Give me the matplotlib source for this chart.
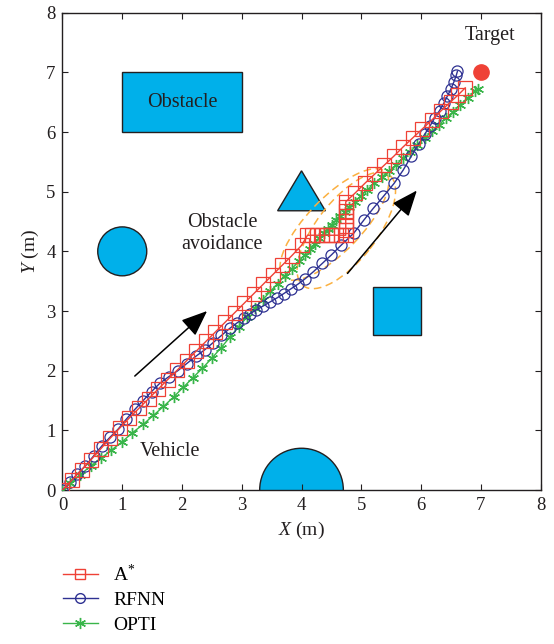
import matplotlib
matplotlib.use('Agg')
import matplotlib.pyplot as plt
from matplotlib.patches import Rectangle, Circle, Polygon, Ellipse
from matplotlib.lines import Line2D

plt.rcParams['font.family'] = 'Liberation Serif'
plt.rcParams['mathtext.fontset'] = 'custom'
plt.rcParams['mathtext.it'] = 'Liberation Serif:italic'
plt.rcParams['mathtext.rm'] = 'Liberation Serif'

# A* path (grid search, jog around the triangle)
astar_x = [0.00, 0.16, 0.32, 0.48, 0.64, 0.80, 0.96, 1.12, 1.28, 1.44, 1.60, 1.76, 1.92,
           2.08, 2.24, 2.40, 2.56, 2.72, 2.88, 3.04, 3.20, 3.36, 3.52, 3.68, 3.84, 4.00,
           4.10, 4.18, 4.26, 4.34, 4.42, 4.50, 4.58, 4.66, 4.74,
           4.74, 4.74, 4.74, 4.74, 4.74, 4.74, 4.74,
           4.90, 5.06, 5.22, 5.38, 5.54, 5.70, 5.86, 6.02, 6.18, 6.34, 6.50, 6.62, 6.74]
astar_y = [0.00, 0.17, 0.34, 0.51, 0.69, 0.87, 1.04, 1.21, 1.37, 1.53, 1.69, 1.85, 2.01,
           2.17, 2.33, 2.49, 2.65, 2.81, 2.97, 3.13, 3.29, 3.45, 3.61, 3.77, 3.93, 4.10,
           4.27, 4.27, 4.27, 4.27, 4.27, 4.27, 4.27, 4.27, 4.27,
           4.35, 4.43, 4.51, 4.59, 4.67, 4.75, 4.83,
           4.98, 5.14, 5.29, 5.44, 5.59, 5.75, 5.90, 6.05, 6.20, 6.36, 6.51, 6.62, 6.74]

# RFNN path
rfnn_x = [0.00, 0.12, 0.25, 0.38, 0.52, 0.66, 0.80, 0.93, 1.07, 1.21, 1.35, 1.49, 1.63,
          1.78, 1.93, 2.08, 2.23, 2.38, 2.52, 2.66, 2.80, 2.92, 3.03, 3.13, 3.23, 3.35,
          3.47, 3.59, 3.70, 3.82, 3.94, 4.06, 4.20, 4.35, 4.50, 4.66, 4.87, 5.04, 5.20,
          5.37, 5.55, 5.70, 5.84, 5.96, 6.06, 6.15, 6.23, 6.31, 6.38, 6.44, 6.50, 6.55,
          6.59, 6.61]
rfnn_y = [0.00, 0.13, 0.27, 0.40, 0.57, 0.74, 0.89, 1.02, 1.19, 1.35, 1.50, 1.65, 1.79,
          1.90, 2.00, 2.12, 2.24, 2.35, 2.47, 2.59, 2.71, 2.80, 2.88, 2.95, 3.01, 3.08,
          3.15, 3.22, 3.29, 3.37, 3.45, 3.54, 3.66, 3.80, 3.94, 4.10, 4.30, 4.52, 4.72,
          4.92, 5.14, 5.36, 5.60, 5.80, 5.96, 6.10, 6.24, 6.36, 6.48, 6.60, 6.72, 6.84,
          6.95, 7.02]

# OPTI path
opti_x = [0.00, 0.13, 0.30, 0.47, 0.64, 0.82, 1.00, 1.17, 1.35, 1.52, 1.69, 1.86, 2.02,
          2.18, 2.34, 2.50, 2.65, 2.80, 2.95, 3.09, 3.22, 3.35, 3.48, 3.60, 3.72, 3.84,
          3.95, 4.05, 4.14, 4.22, 4.30, 4.37, 4.44, 4.51, 4.58, 4.65, 4.72, 4.80, 4.89,
          4.99, 5.10, 5.22, 5.34, 5.46, 5.58, 5.70, 5.82, 5.94, 6.06, 6.18, 6.30, 6.42,
          6.54, 6.66, 6.78, 6.90, 6.96]
opti_y = [0.00, 0.12, 0.26, 0.40, 0.53, 0.67, 0.81, 0.96, 1.10, 1.25, 1.40, 1.56, 1.72,
          1.88, 2.04, 2.21, 2.38, 2.56, 2.74, 2.90, 3.05, 3.19, 3.33, 3.46, 3.59, 3.71,
          3.83, 3.94, 4.04, 4.13, 4.22, 4.30, 4.38, 4.45, 4.52, 4.59, 4.66, 4.74, 4.83,
          4.93, 5.03, 5.14, 5.24, 5.34, 5.45, 5.56, 5.67, 5.79, 5.90, 6.01, 6.12, 6.23,
          6.34, 6.46, 6.57, 6.68, 6.72]

obst_fill = '#00B0EA'
obst_edge = '#231F20'
red = '#EF4136'
blue = '#2E3192'
green = '#39B54A'
orange = '#FBB040'
star = (6, 2, 0)  # asterisk marker

fig = plt.figure(figsize=(5.54, 6.44), dpi=100)
ax = fig.add_axes([0.1128, 0.2391, 0.8629, 0.7412])

# obstacles
ax.add_patch(Rectangle((1, 6), 2, 1, fc=obst_fill, ec=obst_edge, lw=1, zorder=1))
ax.add_patch(Circle((1, 4), 0.41, fc=obst_fill, ec=obst_edge, lw=1, zorder=1))
ax.add_patch(Circle((4, 0), 0.7, fc=obst_fill, ec=obst_edge, lw=1, zorder=1))
ax.add_patch(Rectangle((5.2, 2.6), 0.8, 0.8, fc=obst_fill, ec=obst_edge, lw=1, zorder=1))
ax.add_patch(Polygon([(3.6, 4.68), (4.4, 4.68), (4.0, 5.35)], closed=True,
                     fc=obst_fill, ec=obst_edge, lw=1, zorder=1))

# avoidance region
ax.add_patch(Ellipse((4.55, 4.45), 2.45, 0.9, angle=46, fill=False, ec=orange,
                     lw=1.1, ls=(0, (5, 3)), zorder=2))
ax.add_patch(Ellipse((4.75, 4.35), 2.35, 1.0, angle=52, fill=False, ec=orange,
                     lw=1.1, ls=(0, (5, 3)), zorder=2))

# paths
ax.plot(opti_x, opti_y, color=green, lw=1, marker=star, ms=8, mfc='none', mec=green,
        mew=1.0, zorder=3)
ax.plot(rfnn_x, rfnn_y, color=blue, lw=1, marker='o', ms=8, mfc='none', mec=blue,
        mew=0.9, zorder=4)
ax.plot(astar_x, astar_y, color=red, lw=1, marker='s', ms=9.5, mfc='none', mec=red,
        mew=0.9, zorder=5)

# target
ax.plot([7], [7], 'o', color=red, ms=11, zorder=6)

# arrows
arrow_kw = dict(arrowstyle='-|>,head_length=1.6,head_width=0.65', color='black', lw=1.1,
                shrinkA=0, shrinkB=0)
ax.annotate('', xy=(2.42, 3.0), xytext=(1.21, 1.91), arrowprops=arrow_kw, zorder=6)
ax.annotate('', xy=(5.93, 5.02), xytext=(4.77, 3.63), arrowprops=arrow_kw, zorder=6)

# labels
ax.text(2.0, 6.5, 'Obstacle', ha='center', va='center', fontsize=14.5, color='#231F20')
ax.text(2.67, 4.3, 'Obstacle\navoidance', ha='center', va='center', fontsize=14.5,
        color='#231F20', linespacing=1.2)
ax.text(1.8, 0.65, 'Vehicle', ha='center', va='center', fontsize=14.5, color='#231F20')
ax.text(7.15, 7.62, 'Target', ha='center', va='center', fontsize=14.5, color='#231F20')

ax.set_xlim(0, 8)
ax.set_ylim(0, 8)
ax.set_xticks(range(9))
ax.set_yticks(range(9))
ax.tick_params(direction='in', top=True, right=True, length=4, labelsize=13.5,
               colors='#231F20', pad=5)
for s in ax.spines.values():
    s.set_color('#231F20')
    s.set_linewidth(1.0)
ax.set_xlabel('$X$ (m)', fontsize=14, color='#231F20', labelpad=4)
ax.set_ylabel('$Y$ (m)', fontsize=14, color='#231F20', labelpad=4)

handles = [
    Line2D([], [], color=red, lw=1, marker='s', ms=7, mfc='none', mec=red),
    Line2D([], [], color=blue, lw=1, marker='o', ms=7, mfc='none', mec=blue),
    Line2D([], [], color=green, lw=1, marker=star, ms=8, mfc='none', mec=green),
]
labels = ['A$^{*}$', 'RFNN', 'OPTI']
fig.legend(handles, labels, loc='upper left', bbox_to_anchor=(0.113, 0.125),
           frameon=False, fontsize=14, handlelength=1.8, handletextpad=0.8,
           labelspacing=0.35, borderpad=0, borderaxespad=0)

fig.savefig('out.png', dpi=100)
